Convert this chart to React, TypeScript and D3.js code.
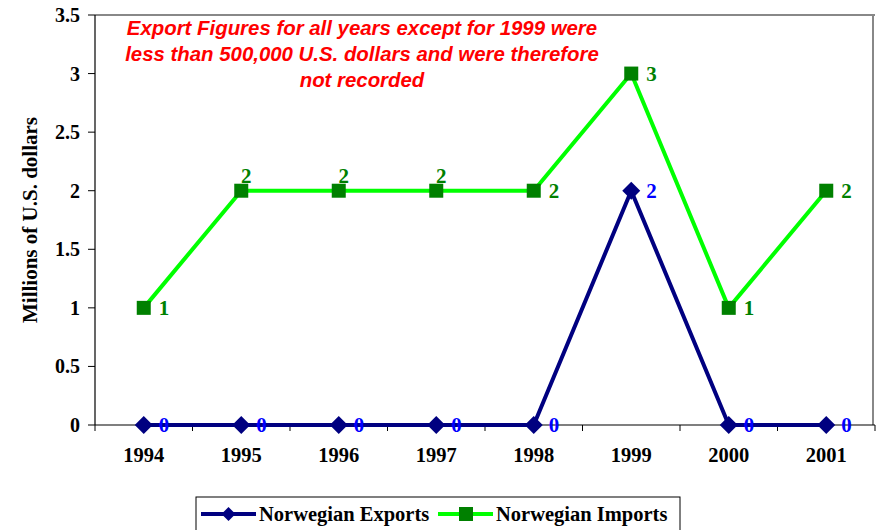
import React from "react";
import * as d3 from "d3";

const years = ["1994", "1995", "1996", "1997", "1998", "1999", "2000", "2001"];
const exportsVals = [0, 0, 0, 0, 0, 2, 0, 0];
const importsVals = [1, 2, 2, 2, 2, 3, 1, 2];
const yTicks = [0, 0.5, 1, 1.5, 2, 2.5, 3, 3.5];
const noteLines = [
  "Export Figures for all years except for 1999 were",
  "less than 500,000 U.S. dollars and were therefore",
  "not recorded",
];

const W = 877, H = 530;
const L = 95, R = 875, T = 15, B = 425;

export default function App() {
  const x = d3.scaleBand<string>().domain(years).range([L, R]);
  const y = d3.scaleLinear().domain([0, 3.5]).range([B, T]);
  const cx = (i: number) => (x(years[i]) as number) + x.bandwidth() / 2;
  const line = d3.line<number>().x((_, i) => cx(i)).y((d) => y(d));
  const serif = "'Liberation Serif', 'Times New Roman', serif";
  const sans = "'Liberation Sans', Arial, sans-serif";

  return (
    <svg width={W} height={H} style={{ position: "absolute", left: 0, top: 0 }}>
      <rect x={0} y={0} width={W} height={H} fill="#fff" />
      {/* plot border */}
      <line x1={L} y1={T} x2={R} y2={T} stroke="#888" strokeWidth={2} />
      <line x1={R - 2} y1={T} x2={R - 2} y2={B} stroke="#888" strokeWidth={2} />
      {/* axes */}
      <line x1={L} y1={T} x2={L} y2={B} stroke="#000" strokeWidth={1.2} />
      <line x1={L} y1={B} x2={R} y2={B} stroke="#000" strokeWidth={1.2} />
      {yTicks.map((t) => (
        <g key={t}>
          <line x1={L - 7} x2={L} y1={y(t)} y2={y(t)} stroke="#000" />
          <text x={L - 15} y={y(t)} dy="0.35em" textAnchor="end" fontFamily={serif} fontWeight="bold" fontSize={20}>
            {String(t)}
          </text>
        </g>
      ))}
      {years.map((yr, i) => (
        <g key={yr}>
          <line x1={x(yr) as number} x2={x(yr) as number} y1={B} y2={B + 6} stroke="#000" />
          <text x={cx(i)} y={462} textAnchor="middle" fontFamily={serif} fontWeight="bold" fontSize={20.5}>
            {yr}
          </text>
        </g>
      ))}
      <line x1={R} x2={R} y1={B} y2={B + 6} stroke="#000" />
      <text
        transform={`translate(37,${(T + B) / 2}) rotate(-90)`}
        textAnchor="middle"
        fontFamily={serif}
        fontWeight="bold"
        fontSize={21}
      >
        Millions of U.S. dollars
      </text>
      {/* note */}
      {noteLines.map((s, i) => (
        <text
          key={i}
          x={362}
          y={35 + i * 26}
          textAnchor="middle"
          fontFamily={sans}
          fontWeight="bold"
          fontStyle="italic"
          fontSize={20.4}
          fill="#ff0000"
        >
          {s}
        </text>
      ))}
      {/* lines */}
      <path d={line(importsVals) || ""} fill="none" stroke="#00ff00" strokeWidth={4} strokeLinejoin="round" />
      <path d={line(exportsVals) || ""} fill="none" stroke="#000080" strokeWidth={4} strokeLinejoin="round" />
      {importsVals.map((v, i) => (
        <rect key={"im" + i} x={cx(i) - 7} y={y(v) - 7} width={14} height={14} fill="#008000" />
      ))}
      {exportsVals.map((v, i) => (
        <path
          key={"ex" + i}
          d={`M${cx(i)},${y(v) - 9}L${cx(i) + 9},${y(v)}L${cx(i)},${y(v) + 9}L${cx(i) - 9},${y(v)}Z`}
          fill="#000080"
        />
      ))}
      {importsVals.map((v, i) => {
        const above = i < importsVals.length - 1 && importsVals[i + 1] === v;
        return (
          <text
            key={"iml" + i}
            x={above ? cx(i) + 5 : cx(i) + 15}
            y={above ? y(v) - 8 : y(v) + 7}
            textAnchor={above ? "middle" : "start"}
            fontFamily={serif}
            fontWeight="bold"
            fontSize={21}
            fill="#008000"
          >
            {String(v)}
          </text>
        );
      })}
      {exportsVals.map((v, i) => (
        <text
          key={"exl" + i}
          x={cx(i) + 15}
          y={y(v) + 7}
          fontFamily={serif}
          fontWeight="bold"
          fontSize={21}
          fill="#0000ff"
        >
          {String(v)}
        </text>
      ))}
      {/* legend */}
      <rect x={196} y={497} width={484} height={40} fill="#fff" stroke="#000" strokeWidth={1} />
      <line x1={201} x2={256} y1={514} y2={514} stroke="#000080" strokeWidth={4} />
      <path d="M228.5,507L235.5,514L228.5,521L221.5,514Z" fill="#000080" />
      <text x={259} y={521} fontFamily={serif} fontWeight="bold" fontSize={20.5}>
        Norwegian Exports
      </text>
      <line x1={438} x2={493} y1={514} y2={514} stroke="#00ff00" strokeWidth={4} />
      <rect x={459} y={507} width={14} height={14} fill="#008000" />
      <text x={496} y={521} fontFamily={serif} fontWeight="bold" fontSize={20.5}>
        Norwegian Imports
      </text>
    </svg>
  );
}
